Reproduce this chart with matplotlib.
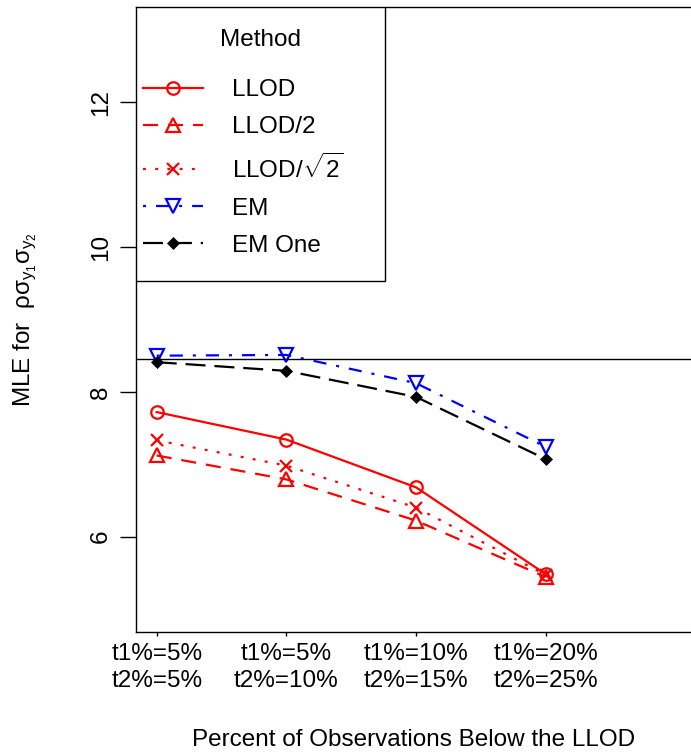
import matplotlib
matplotlib.use('Agg')
import matplotlib.pyplot as plt
from matplotlib.patches import Rectangle

plt.rcParams['font.family'] = ['Liberation Sans', 'DejaVu Sans']
plt.rcParams['mathtext.fontset'] = 'custom'
plt.rcParams['mathtext.rm'] = 'Liberation Sans'
plt.rcParams['mathtext.it'] = 'Liberation Sans'

# data
x_pos = [1, 2, 3, 4]
x_labels = ['t1%=5%\nt2%=5%', 't1%=5%\nt2%=10%', 't1%=10%\nt2%=15%', 't1%=20%\nt2%=25%']
llod = [7.72, 7.34, 6.68, 5.48]
llod_half = [7.12, 6.79, 6.22, 5.44]
llod_sqrt2 = [7.33, 6.98, 6.40, 5.47]
em = [8.50, 8.51, 8.12, 7.24]
em_one = [8.41, 8.29, 7.93, 7.07]
true_value = 8.46

fig = plt.figure(figsize=(6.91, 7.56), dpi=100)
ax = fig.add_axes([136 / 691, 1 - 632 / 756, 560 / 691, 625 / 756])

fs = 17.5
lw = 1.6
ax.plot(x_pos, llod, color='red', ls='-', lw=lw, marker='o', ms=9,
        mfc='none', mew=lw, label='LLOD')
ax.plot(x_pos, llod_half, color='red', ls=(0, (6.75, 4.5)), lw=lw, marker='^', ms=10,
        mfc='none', mew=lw, label='LLOD/2')
ax.plot(x_pos, llod_sqrt2, color='red', ls=(0, (1.3, 4.2)), lw=lw, marker='x', ms=8,
        mew=lw, label='LLOD/$\\sqrt{2}$')
ax.plot(x_pos, em, color='blue', ls=(0, (1.35, 4.5, 5.9, 4.5)), lw=lw, marker='v', ms=10,
        mfc='none', mew=lw, label='EM')
ax.plot(x_pos, em_one, color='black', ls=(0, (9, 4)), lw=lw, marker='D', ms=6,
        mew=0.5, label='EM One')
ax.axhline(true_value, color='black', lw=1.0)

ax.set_xlim(0.84, 5.16)
ax.set_ylim(4.68, 13.32)
ax.set_xticks(x_pos)
ax.set_xticklabels(x_labels, fontsize=fs, linespacing=1.3)
ax.set_yticks([6, 8, 10, 12])
ax.set_yticklabels(['6', '8', '10', '12'], fontsize=fs, rotation=90, va='center')
ax.tick_params(axis='x', length=3, width=1, pad=5, colors='black')
ax.tick_params(axis='y', length=11.5, width=1, pad=6, colors='black')
for s in ax.spines.values():
    s.set_linewidth(1.0)

# legend box, title and entries (R style)
ax.add_patch(Rectangle((0, (632 - 281) / 625), 249 / 560, 1 - (632 - 281) / 625,
                       transform=ax.transAxes, fill=True, facecolor='white',
                       edgecolor='black', lw=1.0, zorder=4))
ax.text((260 - 136) / 560, (632 - 38) / 625, 'Method', transform=ax.transAxes,
        ha='center', va='center_baseline', fontsize=fs, zorder=5)
leg = ax.legend(loc='upper left', bbox_to_anchor=(7 / 560, (632 - 79) / 625),
                borderaxespad=0, borderpad=0, fontsize=fs, frameon=False,
                handlelength=2.48, handletextpad=1.2, labelspacing=0.62,
                numpoints=1)
leg.set_zorder(6)

fig.text(25 / 691, 1 - 320 / 756, 'MLE for  $\\rho\\sigma_{y_1}\\sigma_{y_2}$',
         rotation=90, ha='center', va='center', fontsize=fs)
fig.text(414 / 691, 1 - 740 / 756, 'Percent of Observations Below the LLOD',
         ha='center', va='center', fontsize=fs)

fig.savefig('out.png', dpi=100)
